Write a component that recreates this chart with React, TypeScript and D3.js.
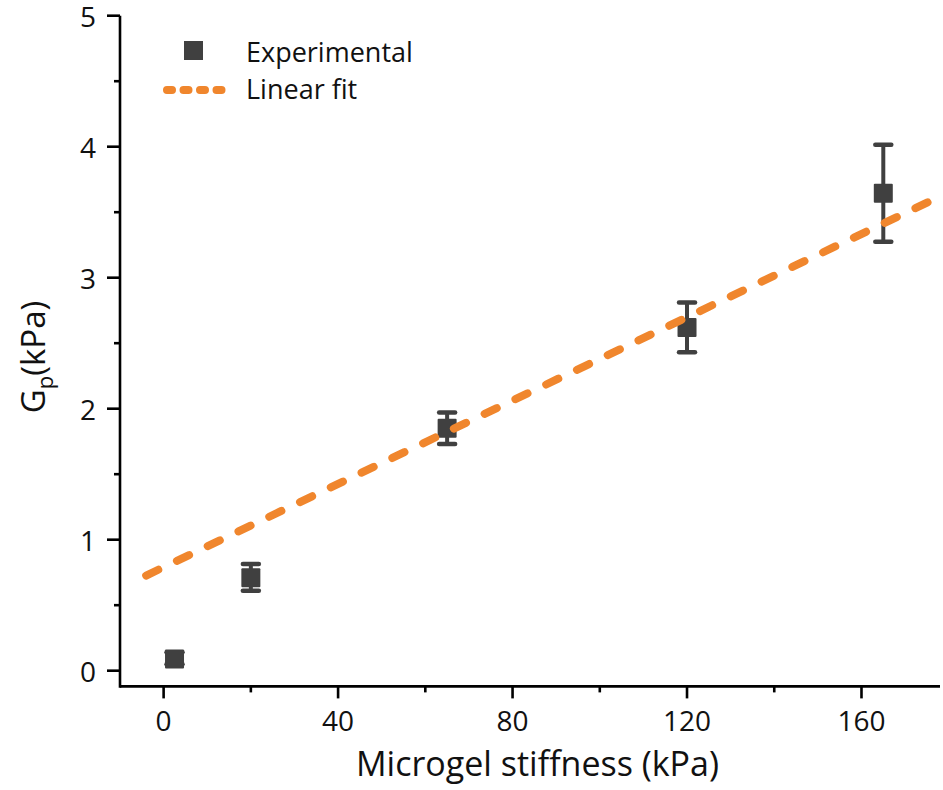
import React from "react";
import * as d3 from "d3";

const stiffness = [2.5, 20, 65, 120, 165];
const gp = [0.09, 0.71, 1.85, 2.62, 3.645];
const errLow = [0.05, 0.61, 1.73, 2.43, 3.275];
const errHigh = [0.14, 0.815, 1.97, 2.81, 4.015];
const fitX = [-4, 177.5];
const fitIntercept = 0.79;
const fitSlope = 0.0159;
const xTicks = [0, 40, 80, 120, 160];
const xMinor = [20, 60, 100, 140];
const yTicks = [0, 1, 2, 3, 4, 5];
const yMinor = [0.5, 1.5, 2.5, 3.5, 4.5];
const legendLabels = ["Experimental", "Linear fit"];

const W = 943, H = 790;
const left = 120, right = 940, top = 15.7, bottom = 686.4;
const FONT = "'Open Sans', 'Noto Sans', sans-serif";
const GRAY = "#404040";
const ORANGE = "#F0862D";

export default function App() {
  const x = d3.scaleLinear().domain([-10, 178]).range([left, right]);
  const y = d3.scaleLinear().domain([-0.12, 5]).range([bottom, top]);
  const fitLine = d3.line<number>().x((d) => x(d)).y((d) => y(fitIntercept + fitSlope * d));
  const sq = 19;
  return (
    <svg width={W} height={H} style={{ position: "absolute", left: 0, top: 0, background: "#fff" }} fontFamily={FONT}>
      {/* axes */}
      <line x1={left} x2={right} y1={bottom} y2={bottom} stroke="#000" strokeWidth={2.6} />
      <line x1={left} x2={left} y1={top} y2={bottom + 1.3} stroke="#000" strokeWidth={2.6} />
      {xTicks.map((t) => (
        <g key={"xt" + t}>
          <line x1={x(t)} x2={x(t)} y1={bottom} y2={bottom + 12} stroke="#000" strokeWidth={2.6} />
          <text x={x(t)} y={731} fontSize={28} textAnchor="middle" fill="#111">{t}</text>
        </g>
      ))}
      {xMinor.map((t) => (
        <line key={"xm" + t} x1={x(t)} x2={x(t)} y1={bottom} y2={bottom + 6} stroke="#000" strokeWidth={2.6} />
      ))}
      {yTicks.map((t) => (
        <g key={"yt" + t}>
          <line x1={left - 13} x2={left} y1={y(t)} y2={y(t)} stroke="#000" strokeWidth={2.6} />
          <text x={96} y={y(t)} dy="0.4em" fontSize={28} textAnchor="end" fill="#111">{t}</text>
        </g>
      ))}
      {yMinor.map((t) => (
        <line key={"ym" + t} x1={left - 6} x2={left} y1={y(t)} y2={y(t)} stroke="#000" strokeWidth={2.6} />
      ))}
      {/* titles */}
      <text x={537.5} y={776} fontSize={34} textAnchor="middle" fill="#111">Microgel stiffness (kPa)</text>
      <text transform="translate(45,357) rotate(-90)" fontSize={33} textAnchor="middle" fill="#111">
        G<tspan fontSize={22} dy={8}>p</tspan><tspan dy={-8}>(kPa)</tspan>
      </text>
      {/* data */}
      {stiffness.map((s, i) => (
        <g key={"p" + i} stroke={GRAY} fill={GRAY}>
          <line x1={x(s)} x2={x(s)} y1={y(errLow[i])} y2={y(errHigh[i])} strokeWidth={4} />
          <line x1={x(s) - 8} x2={x(s) + 8} y1={y(errLow[i])} y2={y(errLow[i])} strokeWidth={4.5} strokeLinecap="round" />
          <line x1={x(s) - 8} x2={x(s) + 8} y1={y(errHigh[i])} y2={y(errHigh[i])} strokeWidth={4.5} strokeLinecap="round" />
          <rect x={x(s) - sq / 2} y={y(gp[i]) - sq / 2} width={sq} height={sq} stroke="none" rx={1} />
        </g>
      ))}
      <path d={fitLine(fitX) || ""} fill="none" stroke={ORANGE} strokeWidth={8} strokeLinecap="round" strokeDasharray="13.4 20.7" />
      {/* legend */}
      <rect x={184} y={41} width={19} height={19} fill={GRAY} />
      <text x={246} y={61.5} fontSize={27} fill="#111">{legendLabels[0]}</text>
      <line x1={167} x2={224} y1={90} y2={90} stroke={ORANGE} strokeWidth={8} strokeLinecap="round" strokeDasharray="5 11.5" />
      <text x={246} y={99} fontSize={27} fill="#111">{legendLabels[1]}</text>
    </svg>
  );
}
